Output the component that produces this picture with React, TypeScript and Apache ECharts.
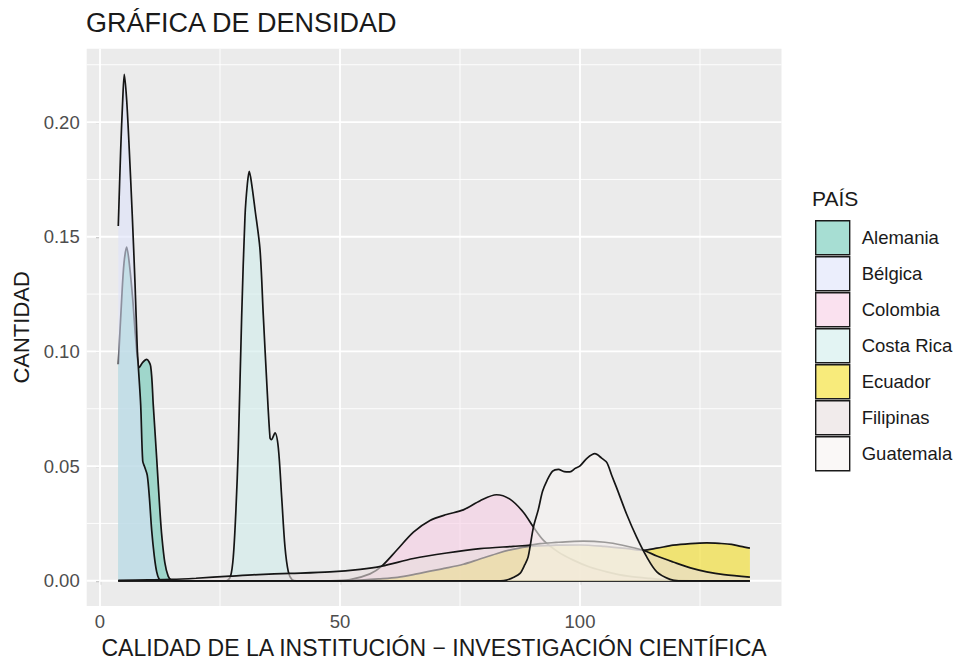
import React, { useEffect, useRef } from "react";
import * as echarts from "echarts";

const countries = ["Alemania", "Bélgica", "Colombia", "Costa Rica", "Ecuador", "Filipinas", "Guatemala"];

const fillColors = [
  "rgba(108,200,182,0.6)",
  "rgba(222,227,250,0.6)",
  "rgba(247,205,228,0.6)",
  "rgba(208,236,235,0.6)",
  "rgba(243,221,35,0.6)",
  "rgba(232,222,222,0.6)",
  "rgba(246,244,242,0.6)",
];

const alemania = [[3.81,0.0944],[4.52,0.123],[5.0,0.1385],[5.56,0.1455],[6.1,0.1385],[6.81,0.123],[7.5,0.104],[8.19,0.093],[8.9,0.0952],[9.73,0.0965],[10.56,0.0935],[11.1,0.0766],[11.81,0.0534],[12.5,0.03],[12.9,0.019],[13.5,0.008],[14.2,0.002],[14.9,0.0002],[16,0],[135.4,0]];
const belgica = [[3.81,0.1547],[4.31,0.1879],[4.73,0.2095],[5.06,0.2208],[5.56,0.2095],[6.1,0.1879],[6.73,0.159],[7.29,0.13],[7.77,0.101],[7.98,0.0936],[8.48,0.0766],[8.9,0.0522],[9.31,0.0496],[9.85,0.046],[10.3,0.036],[10.77,0.022],[11.3,0.011],[11.8,0.004],[12.3,0.0008],[13,0],[135.4,0]];
const colombia = [[3.81,0],[48,0],[52.1,0.0005],[56.25,0.003],[58.7,0.0064],[61.8,0.0133],[65.3,0.0212],[68.75,0.0263],[72.2,0.0289],[75.7,0.0309],[79.2,0.0349],[82.6,0.0375],[85.4,0.0356],[88.2,0.0299],[90.3,0.0234],[92.4,0.0176],[95.5,0.0125],[98.6,0.009],[102,0.006],[105.6,0.0039],[110,0.002],[114.6,0.001],[120,0.0002],[125,0],[135.4,0]];
const costaRica = [[3.81,0],[26.3,0],[27.2,0.002],[27.77,0.0104],[28.3,0.03],[28.81,0.058],[29.52,0.1157],[30.21,0.159],[30.7,0.173],[31.1,0.1785],[31.6,0.173],[32.29,0.162],[33.33,0.1446],[34.02,0.1157],[34.73,0.0869],[35.42,0.0623],[35.7,0.0615],[36.46,0.0645],[37.15,0.058],[37.85,0.0364],[38.54,0.0147],[39.23,0.004],[40,0.0005],[41,0],[135.4,0]];
const ecuador = [[3.81,0],[50,0],[55,0.0004],[58,0.0008],[62,0.0015],[66,0.003],[68.75,0.0042],[72,0.0055],[75.7,0.0072],[79,0.0094],[82.6,0.0118],[86,0.0137],[89.6,0.015],[95,0.0155],[100,0.0156],[105,0.015],[110,0.014],[113.2,0.0133],[116,0.0142],[119.4,0.0155],[123,0.0162],[126.4,0.0165],[129,0.0163],[131.6,0.0159],[133.5,0.015],[135.4,0.0142]];
const filipinas = [[3.81,0.0002],[10,0.0004],[14.9,0.0006],[20,0.0011],[27.1,0.002],[33,0.0027],[39.6,0.0032],[47.9,0.0039],[54.2,0.005],[58.7,0.0064],[65.3,0.0097],[72.2,0.0121],[79.2,0.014],[86.1,0.015],[89.6,0.0155],[91.7,0.0162],[95,0.0167],[97.9,0.0171],[100.7,0.0173],[105.2,0.0168],[108.9,0.0155],[113.2,0.0133],[116,0.0108],[119.4,0.0082],[123,0.0056],[126.4,0.0039],[130,0.0027],[135.4,0.0016]];
const guatemala = [[3.81,0],[83.5,0],[84.7,0.0003],[86.2,0.0015],[87.5,0.0032],[88.5,0.007],[89.2,0.0104],[90.3,0.0234],[91.3,0.0309],[92.2,0.039],[93.1,0.0436],[94.3,0.0478],[95.5,0.0486],[96.7,0.0476],[97.9,0.0475],[99,0.049],[100,0.0501],[101.5,0.0535],[103.1,0.0554],[104.5,0.0535],[105.6,0.0515],[106.6,0.046],[107.6,0.0407],[109.7,0.0291],[111.8,0.019],[113.9,0.0104],[116,0.0039],[118.75,0.0006],[120.5,0],[135.4,0]];

const densities = [alemania, belgica, colombia, costaRica, ecuador, filipinas, guatemala];

const xMajorTicks = [0, 50, 100];
const xMinorTicks = [25, 75, 125];
const yMajorTicks = [0, 0.05, 0.1, 0.15, 0.2];
const yMinorTicks = [0.025, 0.075, 0.125, 0.175, 0.225];

const X_MIN = -2.77;
const X_MAX = 141.98;
const Y_MIN = -0.01105;
const Y_MAX = 0.232;

const FONT = "'Liberation Sans', Arial, sans-serif";

export default function App() {
  const ref = useRef<HTMLDivElement>(null);

  useEffect(() => {
    if (!ref.current) return;
    const chart = echarts.init(ref.current, undefined, { renderer: "svg" });

    const gridSeries: any[] = [];
    const mkV = (v: number, w: number) => ({
      type: "line",
      data: [[v, Y_MIN], [v, Y_MAX]],
      symbol: "none",
      silent: true,
      z: 1,
      lineStyle: { color: "#ffffff", width: w },
    });
    const mkH = (v: number, w: number) => ({
      type: "line",
      data: [[X_MIN, v], [X_MAX, v]],
      symbol: "none",
      silent: true,
      z: 1,
      lineStyle: { color: "#ffffff", width: w },
    });
    xMinorTicks.forEach((v) => gridSeries.push(mkV(v, 0.9)));
    yMinorTicks.forEach((v) => gridSeries.push(mkH(v, 0.9)));
    xMajorTicks.forEach((v) => gridSeries.push(mkV(v, 1.8)));
    yMajorTicks.forEach((v) => gridSeries.push(mkH(v, 1.8)));

    const densSeries = countries.map((name, i) => ({
      name,
      type: "line",
      data: densities[i],
      smooth: 0.3,
      symbol: "none",
      z: 3 + i,
      lineStyle: { color: "#151515", width: 1.7 },
      itemStyle: { color: fillColors[i] },
      areaStyle: { color: fillColors[i], opacity: 1 },
    }));

    chart.setOption({
      animation: false,
      title: [
        {
          text: "GRÁFICA DE DENSIDAD",
          left: 86,
          top: 9,
          padding: 0,
          textStyle: { fontFamily: FONT, fontSize: 27, fontWeight: "normal", color: "#1a1a1a" },
        },
        {
          text: "PAÍS",
          left: 812,
          top: 188,
          padding: 0,
          textStyle: { fontFamily: FONT, fontSize: 21, fontWeight: "normal", color: "#1a1a1a" },
        },
      ],
      legend: {
        orient: "vertical",
        left: 815,
        top: 220,
        padding: 0,
        itemWidth: 34,
        itemHeight: 34,
        itemGap: 0.6,
        icon: "rect",
        selectedMode: false,
        data: countries.map((name, i) => ({
          name,
          itemStyle: { color: fillColors[i], borderColor: "#1a1a1a", borderWidth: 1.4 },
        })),
        textStyle: { fontFamily: FONT, fontSize: 18.5, color: "#1a1a1a", padding: [0, 0, 0, 7] },
      },
      grid: {
        left: 86.7,
        right: 174.5,
        top: 48.7,
        bottom: 53.9,
        show: true,
        backgroundColor: "#ebebeb",
        borderWidth: 0,
        containLabel: false,
      },
      xAxis: {
        type: "value",
        min: X_MIN,
        max: X_MAX,
        name: "CALIDAD DE LA INSTITUCIÓN − INVESTIGACIÓN CIENTÍFICA",
        nameLocation: "middle",
        nameGap: 29,
        nameTextStyle: { fontFamily: FONT, fontSize: 23, color: "#1a1a1a" },
        axisLine: { show: false },
        axisTick: { show: true, customValues: xMajorTicks, length: 4, lineStyle: { color: "#333333", width: 1.1 } },
        axisLabel: {
          customValues: xMajorTicks,
          margin: 6,
          fontFamily: FONT,
          fontSize: 18.5,
          color: "#4d4d4d",
          formatter: (v: number) => String(v),
        },
        splitLine: { show: false },
      },
      yAxis: {
        type: "value",
        min: Y_MIN,
        max: Y_MAX,
        name: "CANTIDAD",
        nameLocation: "middle",
        nameGap: 53,
        nameTextStyle: { fontFamily: FONT, fontSize: 22, color: "#1a1a1a" },
        axisLine: { show: false },
        axisTick: { show: true, customValues: yMajorTicks, length: 4, lineStyle: { color: "#333333", width: 1.1 } },
        axisLabel: {
          customValues: yMajorTicks,
          margin: 7,
          fontFamily: FONT,
          fontSize: 18.5,
          color: "#4d4d4d",
          formatter: (v: number) => v.toFixed(2),
        },
        splitLine: { show: false },
      },
      series: [...gridSeries, ...densSeries],
    });

    return () => chart.dispose();
  }, []);

  return <div ref={ref} style={{ width: 956, height: 664, position: "absolute", left: 0, top: 0 }} />;
}
